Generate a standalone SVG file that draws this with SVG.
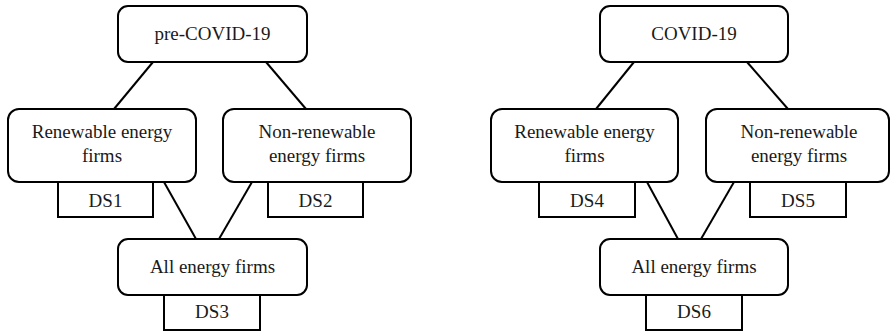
<svg xmlns="http://www.w3.org/2000/svg" width="891" height="332" viewBox="0 0 891 332">
<style>
.n{fill:#fff;stroke:#000;stroke-width:2}
.t{font-family:"Liberation Serif","Times New Roman",serif;font-size:19px;fill:#1a1a1a;text-anchor:middle}
.c line{stroke:#000;stroke-width:2}
</style>
<rect width="891" height="332" fill="#fff"/>
<g class="c" id="connectors">
<line x1="153" y1="62" x2="114" y2="109"/>
<line x1="266" y1="62" x2="306" y2="109"/>
<line x1="164" y1="182" x2="196" y2="239"/>
<line x1="252" y1="182" x2="219" y2="239"/>
<line x1="634" y1="62" x2="596" y2="109"/>
<line x1="747" y1="62" x2="788" y2="109"/>
<line x1="647" y1="182" x2="678" y2="239"/>
<line x1="734" y1="182" x2="701" y2="239"/>
</g>
<g id="pre"><rect class="n" x="118" y="6" width="189" height="56" rx="10"/><text class="t" x="212.5" y="40">pre-COVID-19</text></g>
<g id="ren1"><rect class="n" x="8" y="109" width="188" height="73" rx="11"/><text class="t" x="102" y="138">Renewable energy</text><text class="t" x="102" y="162">firms</text></g>
<g id="non1"><rect class="n" x="223" y="109" width="188" height="73" rx="11"/><text class="t" x="317" y="138">Non-renewable</text><text class="t" x="317" y="162">energy firms</text></g>
<g id="ds1"><rect class="n" x="58" y="182" width="95" height="35"/><text class="t" x="105.5" y="207">DS1</text></g>
<g id="ds2"><rect class="n" x="268" y="182" width="95" height="35"/><text class="t" x="315.5" y="207">DS2</text></g>
<g id="all1"><rect class="n" x="118" y="239" width="189" height="56" rx="10"/><text class="t" x="212.5" y="273">All energy firms</text></g>
<g id="ds3"><rect class="n" x="164" y="295" width="96" height="35"/><text class="t" x="212" y="318">DS3</text></g>
<g id="covid"><rect class="n" x="600" y="6" width="188" height="56" rx="10"/><text class="t" x="694" y="40">COVID-19</text></g>
<g id="ren2"><rect class="n" x="491" y="109" width="187" height="73" rx="11"/><text class="t" x="584.5" y="138">Renewable energy</text><text class="t" x="584.5" y="162">firms</text></g>
<g id="non2"><rect class="n" x="706" y="109" width="183" height="73" rx="11"/><text class="t" x="799" y="138">Non-renewable</text><text class="t" x="799" y="162">energy firms</text></g>
<g id="ds4"><rect class="n" x="539" y="182" width="96" height="35"/><text class="t" x="587" y="207">DS4</text></g>
<g id="ds5"><rect class="n" x="750" y="182" width="96" height="35"/><text class="t" x="798" y="207">DS5</text></g>
<g id="all2"><rect class="n" x="600" y="239" width="188" height="56" rx="10"/><text class="t" x="694" y="273">All energy firms</text></g>
<g id="ds6"><rect class="n" x="646" y="295" width="96" height="35"/><text class="t" x="694" y="318">DS6</text></g>
</svg>
